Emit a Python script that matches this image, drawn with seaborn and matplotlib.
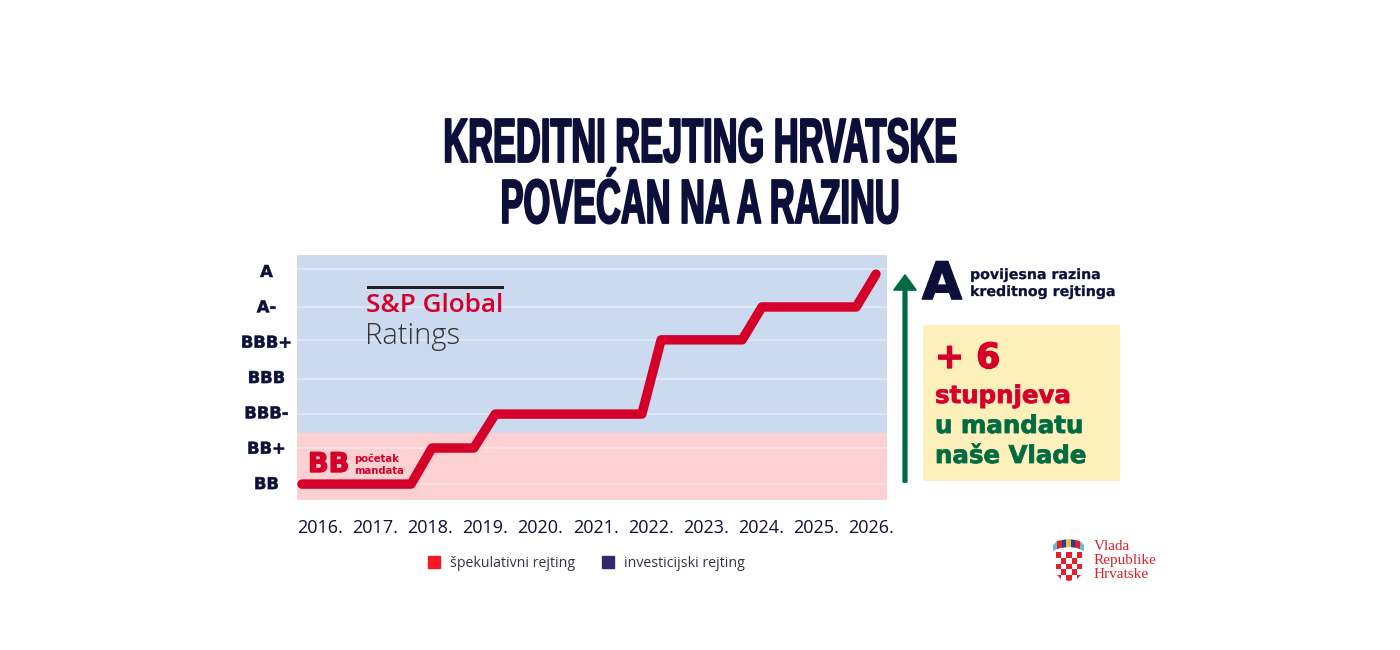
import numpy as np
import pandas as pd
import matplotlib
matplotlib.use('Agg')
import matplotlib.pyplot as plt
import matplotlib.patheffects as pe
from matplotlib.colors import ListedColormap
from matplotlib.patches import Patch, Polygon, Rectangle, FancyArrow
from matplotlib.transforms import Affine2D, ScaledTranslation
import seaborn as sns

# Data
years = [2016, 2017, 2018, 2019, 2020, 2021, 2022, 2023, 2024, 2025, 2026]
year_labels = [f'{y}.' for y in years]
ratings = ['BB', 'BB+', 'BBB-', 'BBB', 'BBB+', 'A-', 'A']
rating_levels = [0, 1, 2, 3, 4, 5, 6]
grid_levels = [0.0, 1.02, 1.98, 2.97, 4.08, 5.01, 6.08]
line_years = [2015.67, 2017.65, 2018.03, 2018.79, 2019.18, 2021.84, 2022.19,
              2023.66, 2024.02, 2025.73, 2026.09]
line_ratings = [0, 0, 1.02, 1.02, 1.98, 1.98, 4.08, 4.08, 5.01, 5.01, 5.94]
spec_limit = 1.44
checker = [[1, 0, 1, 0, 1], [0, 1, 0, 1, 0], [1, 0, 1, 0, 1], [0, 1, 0, 1, 0], [1, 0, 1, 0, 1]]
crown_colors = ['#6fb6de', '#d8232a', '#27408b', '#e8c34a', '#27408b', '#d8232a', '#6fb6de']

NAVY = '#0b0f3a'
RED = '#d50029'
GREEN = '#006b42'
BLUE_BG = '#cbdaef'
PINK_BG = '#fdd0d2'
BOX = '#fef0bb'
W, H = 1400, 650


class Squeeze(pe.AbstractPathEffect):
    # condensed look for the headline, no narrow heavy font is installed
    def __init__(self, sx, cx):
        self.sx = sx
        self.cx = cx

    def draw_path(self, renderer, gc, tpath, affine, rgbFace=None):
        squeeze = Affine2D().translate(-self.cx, 0).scale(self.sx, 1).translate(self.cx, 0)
        gc.set_linewidth(1.3)
        gc.set_foreground(NAVY)
        renderer.draw_path(gc, tpath, affine + squeeze, rgbFace)


def heavy(color, width=0.6):
    # DejaVu bold is still lighter than the original extra bold font
    return [pe.Stroke(linewidth=width, foreground=color)]


sns.set_theme(style='white')
plt.rcParams['font.family'] = ['Open Sans', 'DejaVu Sans']

fig = plt.figure(figsize=(14, 6.5), dpi=100, facecolor='white')


def px_axes(x0, y0, x1, y1):
    return fig.add_axes([x0 / W, 1 - y1 / H, (x1 - x0) / W, (y1 - y0) / H])


# main chart
ax = px_axes(297, 255, 887, 500)
df = pd.DataFrame({'year': line_years, 'rating': line_ratings})
ax.axhspan(-0.45, spec_limit, color=PINK_BG, lw=0, zorder=0)
ax.axhspan(spec_limit, 6.48, color=BLUE_BG, lw=0, zorder=0)
ax.hlines(grid_levels, 2015, 2027, color='white', alpha=0.45, lw=1.2, zorder=1)
sns.lineplot(data=df, x='year', y='rating', sort=False, estimator=None, color=RED,
             lw=6.8, solid_capstyle='round', solid_joinstyle='round', zorder=3, ax=ax)
ax.set_xlim(2015.58, 2026.29)
ax.set_ylim(-0.45, 6.48)
ax.set_xlabel('')
ax.set_ylabel('')
ax.set_xticks(years)
ax.set_xticklabels(year_labels, fontsize=13, color=NAVY, family=['Open Sans'])
ax.set_yticks(rating_levels)
ax.set_yticklabels(ratings, fontsize=11.8, color=NAVY, fontweight='bold', family=['DejaVu Sans'], ha='center')
ax.tick_params(axis='x', length=0, pad=14)
ax.tick_params(axis='y', length=0, pad=22)
for lab in ax.get_yticklabels():
    lab.set_path_effects(heavy(NAVY, 0.4))
    lab.set_transform(lab.get_transform() + ScaledTranslation(0, 1 / 100, fig.dpi_scale_trans))
sns.despine(ax=ax, left=True, bottom=True)

# overlay in pixel coordinates for the annotation parts
ov = fig.add_axes([0, 0, 1, 1], zorder=5)
ov.set_xlim(0, W)
ov.set_ylim(H, 0)
ov.axis('off')
ov.patch.set_alpha(0)

title_kw = dict(ha='center', va='baseline', fontsize=45, color=NAVY, fontweight='bold',
                family=['Liberation Sans'])
for txt, yy in [('KREDITNI REJTING HRVATSKE', 162), ('POVEĆAN NA A RAZINU', 223)]:
    ov.text(700, yy, txt, path_effects=[Squeeze(0.55, 700)], **title_kw)

# S&P logo
ov.add_patch(Rectangle((367, 286), 137, 3, color='#231f20', lw=0))
ov.text(366, 306, 'S&P Global', color=RED, fontsize=18.8, fontweight='semibold', va='center',
        family=['Open Sans'])
ov.text(365, 336, 'Ratings', color='#333333', fontsize=21, fontweight='light', va='center',
        family=['Open Sans'])

# BB note
ov.text(308, 465, 'BB', color=RED, fontsize=19.5, fontweight='bold', va='center', family=['DejaVu Sans'],
        path_effects=heavy(RED, 1.0))
ov.text(354, 458.5, 'početak', color=RED, fontsize=7.2, fontweight='bold', va='center', family=['DejaVu Sans'])
ov.text(354, 470.5, 'mandata', color=RED, fontsize=7.2, fontweight='bold', va='center', family=['DejaVu Sans'])

# arrow and right panel
ov.add_patch(FancyArrow(905, 482, 0, -207, width=3.5, head_width=22, head_length=15,
                        length_includes_head=True, facecolor=GREEN, edgecolor=GREEN, lw=1.2,
                        joinstyle='round'))
ov.text(942, 285, 'A', color=NAVY, fontsize=37, fontweight='bold', ha='center', va='center',
        family=['DejaVu Sans'], path_effects=heavy(NAVY, 1.2))
ov.text(970, 275, 'povijesna razina', color=NAVY, fontsize=10.2, fontweight='bold', va='center',
        family=['DejaVu Sans'], path_effects=heavy(NAVY, 0.2))
ov.text(970, 292, 'kreditnog rejtinga', color=NAVY, fontsize=10.2, fontweight='bold', va='center',
        family=['DejaVu Sans'], path_effects=heavy(NAVY, 0.2))
ov.add_patch(Rectangle((923, 325), 197, 156, color=BOX, lw=0))
ov.text(935, 358, '+ 6', color=RED, fontsize=25, fontweight='bold', va='center', family=['DejaVu Sans'],
        path_effects=heavy(RED, 1.0))
ov.text(935, 396, 'stupnjeva', color=RED, fontsize=17.6, fontweight='bold', va='center', family=['DejaVu Sans'],
        path_effects=heavy(RED, 0.6))
ov.text(935, 426, 'u mandatu', color=GREEN, fontsize=17.6, fontweight='bold', va='center', family=['DejaVu Sans'],
        path_effects=heavy(GREEN, 0.6))
ov.text(935, 456, 'naše Vlade', color=GREEN, fontsize=17.6, fontweight='bold', va='center', family=['DejaVu Sans'],
        path_effects=heavy(GREEN, 0.6))

# legend
handles = [Patch(color='#f5182b', label='špekulativni rejting'),
           Patch(color='#32276f', label='investicijski rejting')]
fig.legend(handles=handles, loc='center', bbox_to_anchor=(586.5 / W, 1 - 563.5 / H), ncol=2, frameon=False,
           fontsize=10.2, handlelength=0.85, handleheight=0.85, handletextpad=0.7, columnspacing=1.9,
           labelcolor='#333344')

# coat of arms
shield = px_axes(1056, 552, 1082, 581)
sns.heatmap(checker, cmap=ListedColormap(['white', '#e3202c']), cbar=False, square=False,
            xticklabels=False, yticklabels=False, ax=shield)
shield.set_axis_off()
clip = Polygon([(0, 0), (5, 0), (5, 3.8), (4, 4.7), (2.5, 5), (1, 4.7), (0, 3.8)], closed=True,
               transform=shield.transData)
shield.collections[0].set_clip_path(clip)
crown = px_axes(1053, 539, 1084, 551)
sns.heatmap([[i for i in range(len(crown_colors))]], cmap=ListedColormap(crown_colors), cbar=False,
            xticklabels=False, yticklabels=False, ax=crown)
crown.set_axis_off()
crown_clip = Polygon([(0, 0.5), (1, 0.2), (2, 0.05), (3.5, 0), (5, 0.05), (6, 0.2), (7, 0.5),
                      (7, 1), (5.5, 0.75), (3.5, 0.7), (1.5, 0.75), (0, 1)], closed=True,
                     transform=crown.transData)
crown.collections[0].set_clip_path(crown_clip)

for txt, yy in [('Vlada', 546), ('Republike', 560.5), ('Hrvatske', 575)]:
    ov.text(1094, yy, txt, color='#d8232a', fontsize=11, va='center', family=['Liberation Serif'])

fig.savefig('out.png', dpi=100, facecolor='white')
